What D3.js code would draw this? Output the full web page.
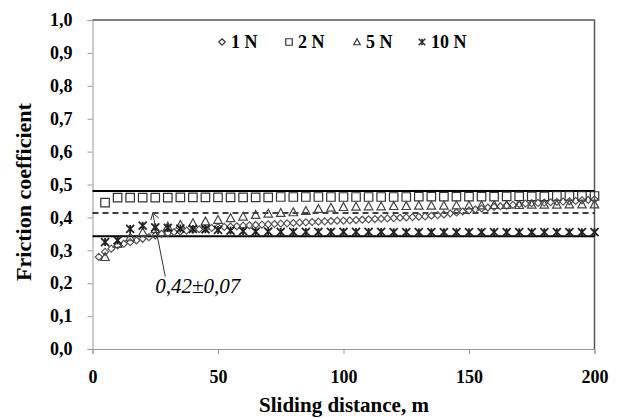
<!DOCTYPE html>
<html>
<head>
<meta charset="utf-8">
<script src="https://cdn.jsdelivr.net/npm/d3@7"></script>
<style>
  body { margin: 0; background: #fff; }
  svg text { font-family: "Liberation Serif", "Times New Roman", serif; }
</style>
</head>
<body>
<svg id="chart" width="620" height="418"></svg>
<script>
// data
const dist1 = d3.range(1, 81).map(i => i * 2.5);   // 1 N sampled every 2.5 m
const dist5 = d3.range(1, 41).map(i => i * 5);     // other loads every 5 m

const load1N = [0.28, 0.295, 0.305, 0.315, 0.32, 0.325, 0.33, 0.335, 0.34, 0.345,
  0.35, 0.352, 0.355, 0.357, 0.36, 0.362, 0.364, 0.366, 0.368, 0.37,
  0.371, 0.372, 0.373, 0.375, 0.376, 0.377, 0.378, 0.379, 0.38, 0.381,
  0.382, 0.383, 0.384, 0.385, 0.386, 0.387, 0.388, 0.389, 0.39, 0.39,
  0.391, 0.392, 0.393, 0.394, 0.395, 0.396, 0.397, 0.398, 0.399, 0.40,
  0.401, 0.402, 0.403, 0.405, 0.407, 0.409, 0.412, 0.415, 0.418, 0.421,
  0.424, 0.427, 0.43, 0.432, 0.434, 0.436, 0.438, 0.44, 0.442, 0.443,
  0.444, 0.445, 0.446, 0.447, 0.448, 0.449, 0.45, 0.452, 0.453, 0.455];
const load2N = [0.445, 0.46, 0.46, 0.46, 0.46, 0.46, 0.461, 0.461, 0.461, 0.461,
  0.461, 0.461, 0.461, 0.461, 0.462, 0.462, 0.462, 0.462, 0.462, 0.462,
  0.462, 0.462, 0.462, 0.462, 0.462, 0.463, 0.463, 0.463, 0.463, 0.463,
  0.463, 0.463, 0.464, 0.464, 0.464, 0.464, 0.465, 0.465, 0.465, 0.465];
const load5N = [0.28, 0.32, 0.34, 0.355, 0.365, 0.372, 0.378, 0.383, 0.388, 0.393,
  0.398, 0.403, 0.408, 0.412, 0.414, 0.416, 0.42, 0.426, 0.43, 0.432,
  0.433, 0.434, 0.434, 0.435, 0.435, 0.436, 0.436, 0.436, 0.437, 0.437,
  0.437, 0.438, 0.438, 0.438, 0.439, 0.439, 0.439, 0.44, 0.44, 0.44];
const load10N = [0.325, 0.33, 0.365, 0.375, 0.37, 0.368, 0.366, 0.365, 0.364, 0.362,
  0.36, 0.358, 0.357, 0.357, 0.356, 0.356, 0.356, 0.356, 0.356, 0.356,
  0.356, 0.356, 0.356, 0.355, 0.355, 0.355, 0.355, 0.355, 0.355, 0.355,
  0.355, 0.355, 0.355, 0.355, 0.355, 0.355, 0.355, 0.355, 0.355, 0.355];

const seriesNames = ['1 N', '2 N', '5 N', '10 N'];
const markers = ['diamond', 'square', 'triangle', 'star'];
const yTicks = d3.range(0, 11).map(i => i / 10);
const xTicks = [0, 50, 100, 150, 200];
const bandLines = [0.48, 0.343];     // solid limits
const meanLine = 0.413;              // dashed mean
const noteText = '0,42\u00b10,07';

const svg = d3.select('#chart');

const x = d3.scaleLinear().domain([0, 200]).range([92.5, 594.5]);
const y = d3.scaleLinear().domain([0, 1]).range([349, 20]);

const comma = d => d3.format('.1f')(d).replace('.', ',');

// marker shapes
const markerPath = (type, s) => {
  const h = s / 2;
  if (type === 'square') return `M${-h},${-h}H${h}V${h}H${-h}Z`;
  if (type === 'diamond') return `M0,${-h}L${h},0L0,${h}L${-h},0Z`;
  if (type === 'triangle') return `M0,${-h}L${h},${h * 0.85}L${-h},${h * 0.85}Z`;
  // star = x + vertical bar
  return `M${-h},${-h}L${h},${h}M${-h},${h}L${h},${-h}M0,${-h}V${h}`;
};

// frame (top and right)
svg.append('path')
    .attr('d', `M${x(0)},${y(1)}H${x(200)}V${y(0)}`)
    .attr('fill', 'none')
    .attr('stroke', '#555')
    .attr('stroke-width', 1.5);

// y axis
const yAxis = svg.append('g')
    .attr('transform', `translate(${x(0)},0)`)
    .call(d3.axisLeft(y).tickValues(yTicks).tickFormat(comma).tickSize(5).tickPadding(15));
yAxis.select('.domain').attr('stroke', '#999');
yAxis.selectAll('.tick line').attr('stroke', '#999');
yAxis.selectAll('text')
    .attr('fill', '#000')
    .style('font-size', '18px')
    .style('font-weight', 'bold');

// x axis
const xAxis = svg.append('g')
    .attr('transform', `translate(0,${y(0)})`)
    .call(d3.axisBottom(x).tickValues(xTicks).tickSize(5).tickPadding(16));
xAxis.select('.domain').attr('stroke', '#999');
xAxis.selectAll('.tick line').attr('stroke', '#999');
xAxis.selectAll('text')
    .attr('fill', '#000')
    .style('font-size', '18px')
    .style('font-weight', 'bold');

// axis titles
svg.append('text')
    .attr('x', 344)
    .attr('y', 412)
    .attr('text-anchor', 'middle')
    .style('font-size', '21px')
    .style('font-weight', 'bold')
    .text('Sliding distance, m');

svg.append('text')
    .attr('transform', 'translate(31,192) rotate(-90)')
    .attr('text-anchor', 'middle')
    .style('font-size', '22px')
    .style('font-weight', 'bold')
    .text('Friction coefficient');

// limit lines
svg.selectAll('.band')
    .data(bandLines)
    .enter()
    .append('line')
    .attr('x1', x(0)).attr('x2', x(200))
    .attr('y1', d => y(d)).attr('y2', d => y(d))
    .attr('stroke', '#000')
    .attr('stroke-width', 2);

svg.append('line')
    .attr('x1', x(0)).attr('x2', x(200))
    .attr('y1', y(meanLine)).attr('y2', y(meanLine))
    .attr('stroke', '#000')
    .attr('stroke-width', 1.5)
    .attr('stroke-dasharray', '6,4');

// series
const series = [
  { xs: dist1, ys: load1N, size: 7, color: '#555' },
  { xs: dist5, ys: load2N, size: 8.5, color: '#333' },
  { xs: dist5, ys: load5N, size: 8.5, color: '#444' },
  { xs: dist5, ys: load10N, size: 8, color: '#222' }
];

series.forEach((s, i) => {
  svg.append('g').selectAll('path')
      .data(s.ys)
      .enter()
      .append('path')
      .attr('transform', (d, j) => `translate(${x(s.xs[j])},${y(d)})`)
      .attr('d', markerPath(markers[i], s.size))
      .attr('fill', 'none')
      .attr('stroke', s.color)
      .attr('stroke-width', i === 3 ? 1.8 : 1.2);
});

// legend
const legendX = [222, 289, 357, 422];
const legend = svg.append('g');
seriesNames.forEach((name, i) => {
  legend.append('path')
      .attr('transform', `translate(${legendX[i]},42)`)
      .attr('d', markerPath(markers[i], 6.5))
      .attr('fill', 'none')
      .attr('stroke', '#333')
      .attr('stroke-width', i === 3 ? 1.6 : 1.2);
  legend.append('text')
      .attr('x', legendX[i] + 9)
      .attr('y', 48)
      .style('font-size', '18px')
      .style('font-weight', 'bold')
      .text(name);
});

// annotation with arrow
const tip = [24, meanLine];
const tail = [29, 0.22];
svg.append('line')
    .attr('x1', x(tail[0])).attr('y1', y(tail[1]))
    .attr('x2', x(tip[0])).attr('y2', y(tip[1]))
    .attr('stroke', '#333')
    .attr('stroke-width', 1);
svg.append('path')
    .attr('d', `M${x(tip[0]) - 2},${y(tip[1]) + 7}L${x(tip[0])},${y(tip[1])}L${x(tip[0]) + 6},${y(tip[1]) + 5}`)
    .attr('fill', 'none')
    .attr('stroke', '#333')
    .attr('stroke-width', 1);

svg.append('text')
    .attr('x', x(25))
    .attr('y', y(0.17))
    .style('font-size', '21px')
    .style('font-style', 'italic')
    .text(noteText);
</script>
</body>
</html>
